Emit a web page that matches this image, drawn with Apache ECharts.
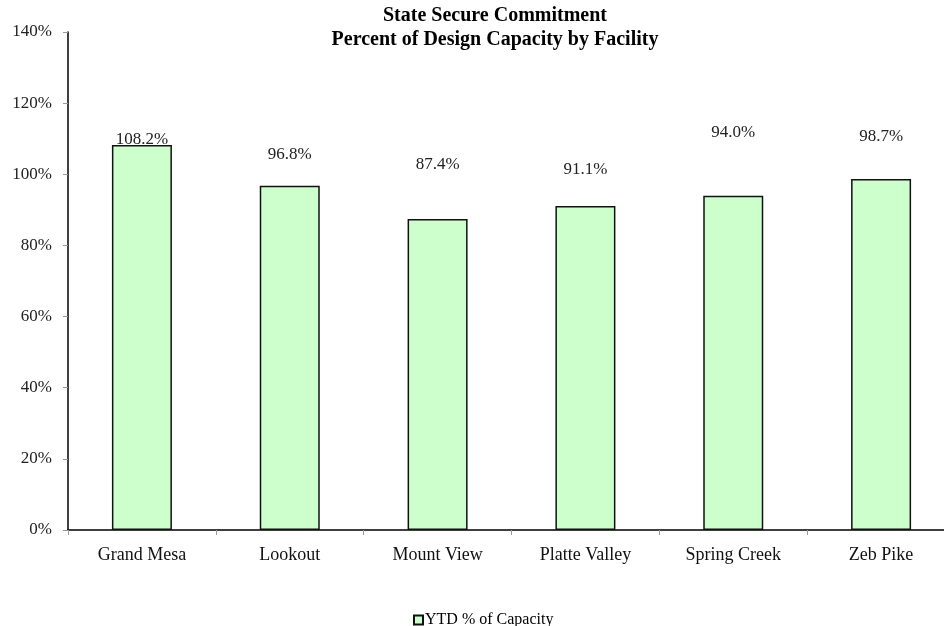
<!DOCTYPE html>
<html>
<head>
<meta charset="utf-8">
<script src="https://cdn.jsdelivr.net/npm/echarts@6/dist/echarts.min.js"></script>
<style>
  html,body{margin:0;padding:0;background:#fff;overflow:hidden;}
  #chart{width:960px;height:626px;}
</style>
</head>
<body>
<div id="chart"></div>
<script>
  //分类
  var facilities = ['Grand Mesa', 'Lookout', 'Mount View', 'Platte Valley', 'Spring Creek', 'Zeb Pike'];
  //YTD % of Capacity
  var ytdCapacity = [108.2, 96.8, 87.4, 91.1, 94.0, 98.7];
  //y 轴刻度
  var yTicks = [0, 20, 40, 60, 80, 100, 120, 140];

  //标签上移量 (Excel 原图标签位置不一)
  var labelLift = [-6, 20, 43, 25, 52, 31];

  var serif = '"Liberation Serif", "DejaVu Serif", serif';

  var barData = ytdCapacity.map(function(v, i){
    return {
      value: v,
      label: { offset: [0, -labelLift[i]] }
    };
  });

  var option = {
    animation: false,
    title: {
      text: 'State Secure Commitment\nPercent of Design Capacity by Facility',
      left: 490,
      top: -1,
      textAlign: 'center',
      textStyle: {
        fontFamily: serif,
        fontSize: 20,
        fontWeight: 'bold',
        color: '#000',
        lineHeight: 24
      }
    },
    legend: {
      data: ['YTD % of Capacity'],
      left: 408,
      top: 607,
      itemWidth: 9,
      itemHeight: 9,
      itemGap: 4,
      icon: 'rect',
      textStyle: { fontFamily: serif, fontSize: 16, color: '#000', padding: [0, 0, 0, -3] }
    },
    //图表右侧被截断, 容器比窗口宽
    grid: { left: 68, width: 887, top: 32, height: 498, containLabel: false },
    xAxis: {
      type: 'category',
      data: facilities,
      axisLine: { lineStyle: { color: '#000', width: 1.5 } },
      axisTick: { show: true, length: 5, lineStyle: { color: '#999' } },
      axisLabel: { fontFamily: serif, fontSize: 18, color: '#111', margin: 16 }
    },
    yAxis: {
      type: 'value',
      min: yTicks[0],
      max: yTicks[yTicks.length - 1],
      interval: yTicks[1] - yTicks[0],
      splitLine: { show: false },
      axisLine: { show: true, lineStyle: { color: '#000', width: 1.5 } },
      axisTick: { show: true, length: 5, lineStyle: { color: '#999' } },
      axisLabel: { fontFamily: serif, fontSize: 17, color: '#222', margin: 16, formatter: '{value}%' }
    },
    series: [
      {
        name: 'YTD % of Capacity',
        type: 'bar',
        data: barData,
        barWidth: 60,
        itemStyle: { color: '#ccffcc', borderColor: '#111', borderWidth: 1.5 },
        label: {
          show: true,
          position: 'top',
          distance: 3,
          fontFamily: serif,
          fontSize: 17,
          color: '#222',
          formatter: function(p){ return p.value.toFixed(1) + '%'; }
        }
      }
    ]
  };

  var myChart = echarts.init(document.getElementById('chart'));
  myChart.setOption(option);
</script>
</body>
</html>
